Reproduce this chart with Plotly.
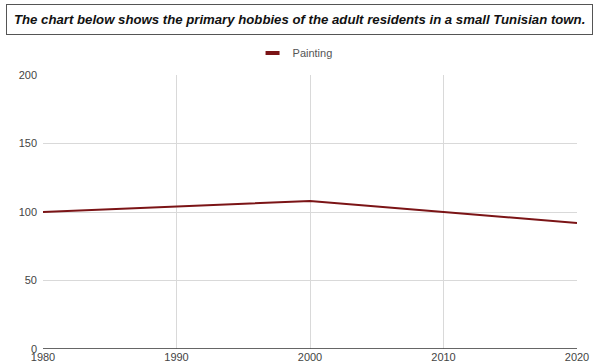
import plotly.graph_objects as go

years = [1980, 1990, 2000, 2010, 2020]
painting = [100, 104, 108, 100, 92]
y_ticks = [0, 50, 100, 150, 200]
title_text = "The chart below shows the primary hobbies of the adult residents in a small Tunisian town."

W, H = 600, 364
L, R, T, B = 43, 23, 75, 15
PW, PH = W - L - R, H - T - B
LINE_COLOR = "#7b1416"

fig = go.Figure()
fig.add_trace(go.Scatter(
    x=years, y=painting, mode="lines", name="Painting", showlegend=False,
    line=dict(color=LINE_COLOR, width=2),
))
# legend swatch as a short thick bar
fig.add_trace(go.Scatter(
    x=[None], y=[None], mode="markers", name="Painting",
    marker=dict(symbol="line-ew-open", size=10, color=LINE_COLOR,
                line=dict(color=LINE_COLOR, width=4)),
))

fig.update_layout(
    width=W, height=H,
    margin=dict(l=L, r=R, t=T, b=B, autoexpand=False),
    paper_bgcolor="white", plot_bgcolor="white",
    font=dict(family="Liberation Sans, Arial, sans-serif", size=11, color="#444"),
    showlegend=True,
    legend=dict(orientation="h", x=0.472, xanchor="center", y=1 - 53 / H, yanchor="middle",
                yref="container", font=dict(size=11, color="#555"), itemwidth=30),
    xaxis=dict(range=[1980, 2020], tickvals=years, showgrid=True, gridcolor="#d9d9d9",
               zeroline=False, showline=False, ticks="", automargin=False,
               tickfont=dict(size=11, color="#444")),
    yaxis=dict(range=[0, 200], tickvals=y_ticks, showgrid=True, gridcolor="#d9d9d9",
               zeroline=False, ticks="", automargin=False, ticklabelstandoff=5,
               tickfont=dict(size=11, color="#444")),
    shapes=[dict(type="line", xref="paper", yref="y", x0=0, x1=1, y0=0, y1=0,
                 line=dict(color="#333", width=1.5))],
    annotations=[dict(
        text="<b><i>" + title_text + "</i></b>",
        xref="paper", yref="paper",
        x=(299 - L) / PW, y=(H - B - 20) / PH, xanchor="center", yanchor="middle",
        showarrow=False, font=dict(size=13.2, color="#111", family="Liberation Sans, Arial, sans-serif"),
        bordercolor="#555", borderwidth=1, borderpad=7, bgcolor="white",
    )],
)

fig.write_html("out.html", config={"displayModeBar": False},
               post_script="document.body.style.margin='0';")
